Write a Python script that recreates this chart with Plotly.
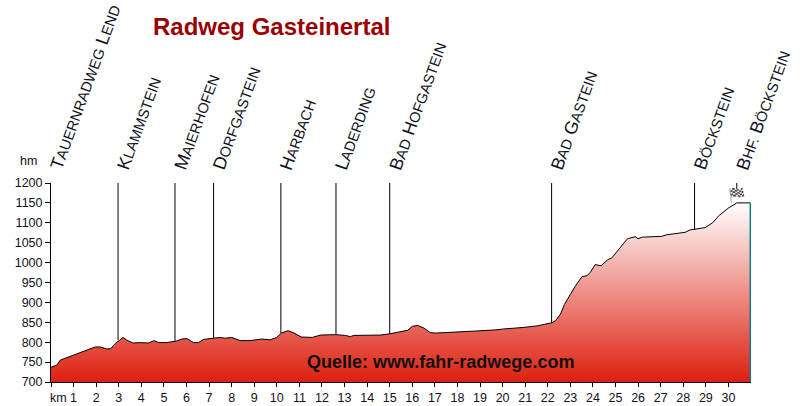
import plotly.graph_objects as go

km = [0, 0.27, 0.41, 0.78, 1.0, 1.37, 1.67, 1.96, 2.18, 2.48, 2.65, 2.85, 3.04, 3.19, 3.36, 3.63, 3.95, 4.32, 4.57, 4.76,
      5.13, 5.57, 5.8, 6.02, 6.31, 6.53, 6.75, 7.2, 7.49, 7.71, 8.0, 8.38, 8.82, 9.33, 9.7, 10.0, 10.2, 10.5, 10.76, 11.09,
      11.57, 11.94, 12.6, 13.04, 13.26, 13.4, 14.3, 14.6, 15.0, 15.6, 15.8, 16.0, 16.24, 16.5, 16.8, 17.05, 18.15, 18.8,
      19.7, 20.0, 20.9, 21.53, 22.19, 22.34, 22.56, 22.74, 23.0, 23.22, 23.52, 23.74, 23.89, 24.1, 24.36, 24.65, 24.84,
      25.14, 25.53, 25.87, 26.0, 26.2, 27.05, 27.27, 27.7, 28.08, 28.3, 28.97, 29.3, 29.56, 30.0, 30.37, 30.97]
elev = [737, 743, 755, 763, 769, 776, 783, 788, 788, 783, 784, 797, 805, 812, 805, 798, 799, 798, 804, 799,
        799, 803, 808, 809, 799, 799, 807, 810, 812, 810, 812, 804, 804, 808, 806, 812, 823, 829, 823, 813,
        812, 818, 819, 817, 814, 817, 818, 818, 821, 827, 830, 840, 842, 836, 824, 823, 825, 828,
        831, 833, 837, 841, 849, 854, 870, 895, 920, 941, 965, 967, 976, 995, 992, 1007, 1012,
        1032, 1060, 1065, 1060, 1064, 1066, 1070, 1073, 1076, 1082, 1088, 1100, 1117, 1137, 1150, 1150]

places = ['Tauernradweg Lend', 'Klammstein', 'Maierhofen', 'Dorfgastein', 'Harbach', 'Laderding',
          'Bad Hofgastein', 'Bad Gastein', 'Böckstein', 'Bhf. Böckstein']
place_km = [0, 2.97, 5.49, 7.2, 10.18, 12.62, 15.0, 22.17, 28.5, 30.37]
place_elev = [737, 805, 803, 810, 823, 819, 821, 849, 1083, 1150]

km_ticks = list(range(0, 31))
km_labels = [''] + [str(k) for k in range(1, 31)]
hm_ticks = list(range(700, 1201, 50))

TXT = '#111122'
SANS = 'Liberation Sans, Arial, sans-serif'


def small_caps(name):
    # big first letters, the rest smaller
    out = ''
    for word in name.split(' '):
        out += word[0].upper() + '<span style="font-size:14.6px">' + word[1:].upper() + '</span> '
    return out.strip()


fig = go.Figure()
fig.add_trace(go.Scatter(x=km, y=elev, mode='lines', line=dict(color='black', width=1), fill='tozeroy',
                         fillgradient=dict(type='vertical', start=1150, stop=700,
                                           colorscale=[[0, '#ffffff'], [1, '#dd2010']]),
                         showlegend=False))
# teal edge at the end of the profile
fig.add_trace(go.Scatter(x=[km[-1], km[-1]], y=[700, elev[-1]], mode='lines',
                         line=dict(color='#008080', width=1.5), showlegend=False))

for name, x, y in zip(places, place_km, place_elev):
    if x > 0:
        y0 = 1185 if name.startswith('Bhf') else y
        fig.add_shape(type='line', x0=x, x1=x, y0=y0, y1=1200, line=dict(color='black', width=1))
    fig.add_annotation(x=x, y=1200, text=small_caps(name), textangle=-70, showarrow=False,
                       xanchor='left', yanchor='bottom', xshift=-7, yshift=8,
                       font=dict(family=SANS, size=18, color=TXT))

# finish flag
fig.add_annotation(x=30.37, y=1150, text='🏁', showarrow=False, xanchor='center', yanchor='bottom',
                   yshift=-3, xshift=0, font=dict(size=14, color='black'))

fig.add_annotation(xref='paper', yref='paper', x=0.0, y=1.0, text='hm', showarrow=False, xanchor='left',
                   yanchor='bottom', xshift=-33, yshift=13, font=dict(family=SANS, size=12.5, color=TXT))
fig.add_annotation(x=0, y=700, text='km', showarrow=False, xanchor='left', yanchor='top', yshift=-7,
                   xshift=-3, font=dict(family=SANS, size=12.5, color=TXT))
fig.add_annotation(x=11.27, y=700, text='<b>Quelle: www.fahr-radwege.com</b>', showarrow=False, xanchor='left',
                   yanchor='bottom', yshift=8, font=dict(family=SANS, size=18, color='#111111'))
fig.add_annotation(xref='paper', yref='paper', x=0.143, y=1.0, text='<b>Radweg Gasteinertal</b>', showarrow=False,
                   xanchor='left', yanchor='bottom', yshift=141, font=dict(family=SANS, size=24, color='#990000'))

fig.update_layout(width=800, height=406, margin=dict(l=50.5, r=49, t=182.5, b=24), paper_bgcolor='white',
                  plot_bgcolor='white', showlegend=False)
fig.update_xaxes(range=[0, 31], tickvals=km_ticks, ticktext=km_labels, showgrid=False, zeroline=False, ticks='outside',
                 ticklen=4, tickcolor='black', showline=True, linecolor='black', linewidth=1, automargin=False,
                 tickfont=dict(family=SANS, size=12.5, color=TXT))
fig.update_yaxes(range=[700, 1200], tickvals=hm_ticks, showgrid=False, zeroline=False, ticks='outside', ticklen=5,
                 tickcolor='black', showline=True, linecolor='black', linewidth=1, automargin=False,
                 tickfont=dict(family=SANS, size=12.5, color=TXT))

# page margin off so the figure sits at the window corner
fig.write_html("out.html", config={'displayModeBar': False},
               post_script="document.body.style.margin='0';document.documentElement.style.overflow='hidden';")
